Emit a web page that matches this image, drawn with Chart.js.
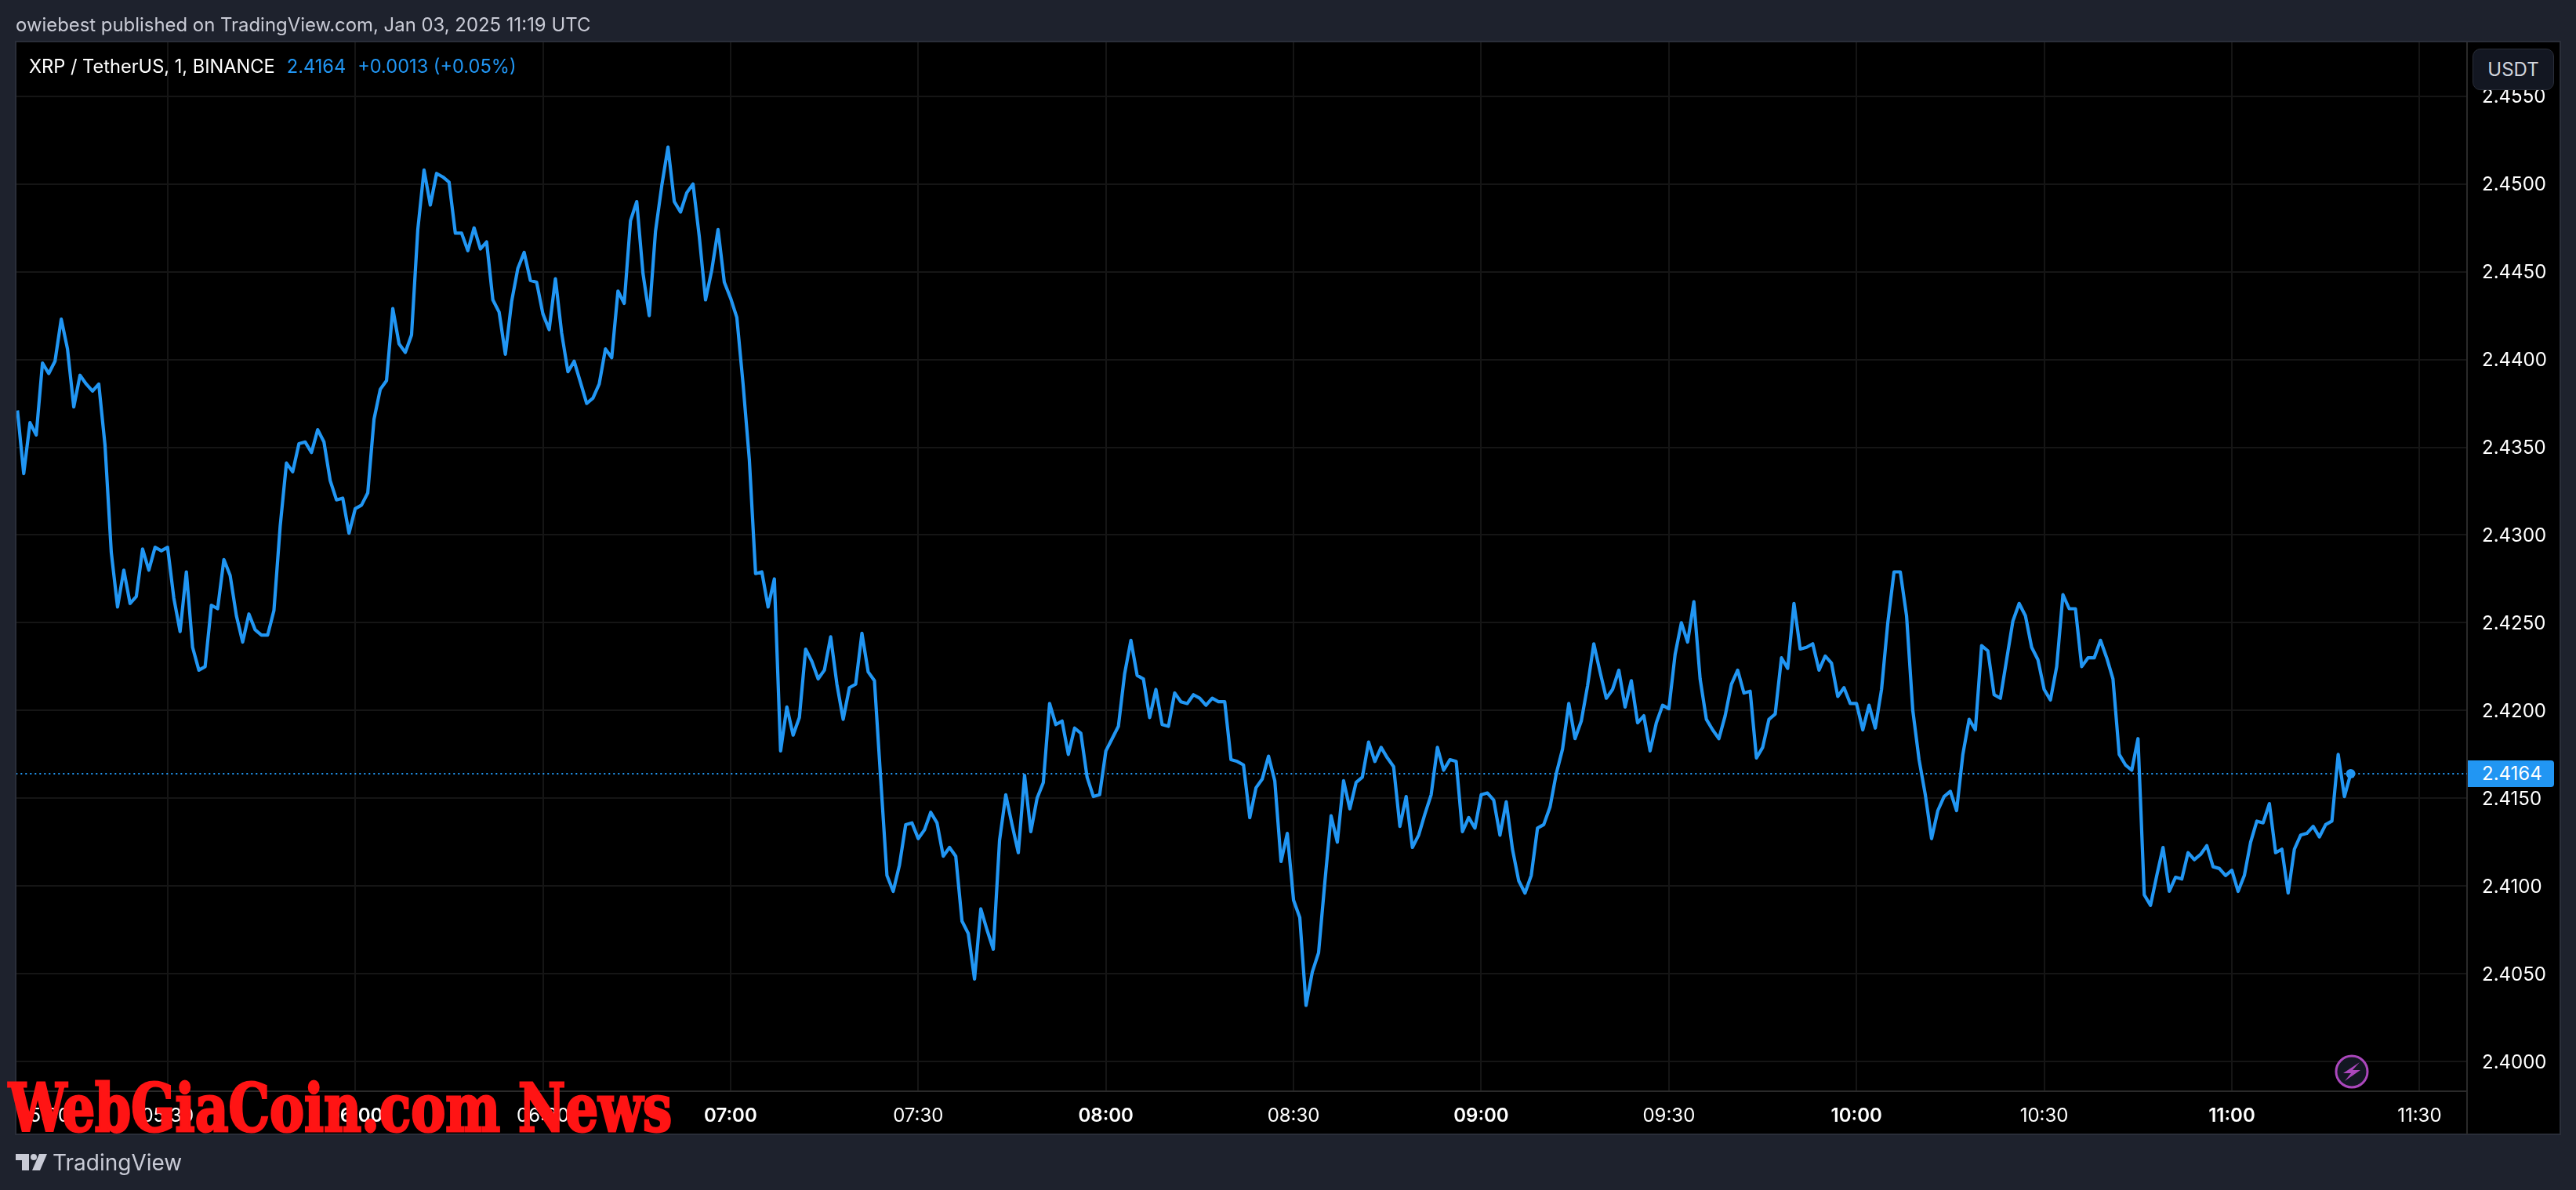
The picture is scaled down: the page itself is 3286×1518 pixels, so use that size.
<!DOCTYPE html>
<html>
<head>
<meta charset="utf-8">
<title>XRP / TetherUS</title>
<script src="https://cdn.jsdelivr.net/npm/chart.js@4"></script>
<style>
  html, body { margin: 0; padding: 0; background: #1E222D; overflow: hidden; }
  body { width: 3286px; height: 1518px; position: relative; font-family: Inter, sans-serif; }
  canvas { position: absolute; left: 0; top: 0; }
  .txt { position: absolute; white-space: nowrap; line-height: 1; font-size: 24px; }
  #published { left: 20px; top: 20px; color: #C9CBD6; font-size: 23.9px; }
  #legend { left: 37px; top: 73px; color: #fff; font-size: 23.6px; }
  #legend span { color: #2196F3; margin-left: 15px; }
  #usdt { position: absolute; left: 3154px; top: 62px; width: 102px; height: 51px; box-sizing: content-box;
          background: #131722; border: 1px solid #2A2E39; border-radius: 10px; color: #D1D4DC;
          font-size: 24px; line-height: 51px; text-align: center; }
  #tag { position: absolute; left: 3148px; top: 970px; width: 110px; height: 34px; background: #2196F3;
         border-radius: 0 4px 4px 0; color: #fff; font-size: 24px; line-height: 34px; padding-left: 18px; box-sizing: border-box; }
  #bolt { position: absolute; left: 2976px; top: 1343px; }
  #wm { position: absolute; left: 11px; top: 1372px; color: #FF1414; font-family: "DejaVu Serif", serif; font-weight: 700;
        font-stretch: condensed; font-size: 84px; line-height: 1; white-space: nowrap; transform-origin: 0 0;
        -webkit-text-stroke: 3px #FF1414; }
  #logo { position: absolute; left: 20px; top: 1472px; }
  #tv { left: 67px; top: 1469px; font-size: 28px; color: #C9CBD6; }
</style>
</head>
<body>
<canvas id="grafico" width="3286" height="1518"></canvas>
<div class="txt" id="published">owiebest published on TradingView.com, Jan 03, 2025 11:19 UTC</div>
<div class="txt" id="legend">XRP / TetherUS, 1, BINANCE<span>2.4164</span><span>+0.0013 (+0.05%)</span></div>
<div id="usdt">USDT</div>
<div id="tag">2.4164</div>
<svg id="bolt" width="48" height="48" viewBox="0 0 48 48">
  <circle cx="24" cy="24" r="20" fill="#131722" stroke="#AB47BC" stroke-width="3"/>
  <path d="M34 12 L13 26 L23 26 L15 36 L35 22 L25 22 Z" fill="#AB47BC"/>
</svg>
<div id="wm">WebGiaCoin.com News</div>
<svg id="logo" width="40" height="21" viewBox="0 0 40 21">
  <path d="M0 0 H17 V21 H8 V8 H0 Z" fill="#C9CBD6"/>
  <circle cx="23" cy="4" r="4" fill="#C9CBD6"/>
  <path d="M30 0 H40 L31 21 H21 Z" fill="#C9CBD6"/>
</svg>
<div class="txt" id="tv">TradingView</div>

<script>
// prezzi di chiusura, una candela al minuto dalle 05:06 alle 11:19
const prezzi = [
  2.4371,2.4335,2.4364,2.4357,2.4398,2.4392,2.4399,2.4423,2.4406,2.4373,
  2.4391,2.4386,2.4382,2.4386,2.4351,2.4290,2.4259,2.4280,2.4261,2.4265,
  2.4292,2.4280,2.4293,2.4291,2.4293,2.4264,2.4245,2.4279,2.4236,2.4223,
  2.4225,2.4260,2.4258,2.4286,2.4277,2.4254,2.4239,2.4255,2.4246,2.4243,
  2.4243,2.4257,2.4305,2.4341,2.4336,2.4352,2.4353,2.4347,2.4360,2.4353,
  2.4331,2.4320,2.4321,2.4301,2.4315,2.4317,2.4324,2.4366,2.4383,2.4388,
  2.4429,2.4409,2.4404,2.4414,2.4474,2.4508,2.4488,2.4506,2.4504,2.4501,
  2.4472,2.4472,2.4462,2.4475,2.4463,2.4467,2.4434,2.4427,2.4403,2.4433,
  2.4452,2.4461,2.4445,2.4444,2.4426,2.4417,2.4446,2.4415,2.4393,2.4399,
  2.4387,2.4375,2.4378,2.4386,2.4406,2.4401,2.4439,2.4432,2.4479,2.4490,
  2.4449,2.4425,2.4473,2.4499,2.4521,2.4490,2.4484,2.4495,2.4500,2.4470,
  2.4434,2.4451,2.4474,2.4444,2.4435,2.4424,2.4386,2.4343,2.4278,2.4279,
  2.4259,2.4275,2.4177,2.4202,2.4186,2.4196,2.4235,2.4228,2.4218,2.4223,
  2.4242,2.4215,2.4195,2.4213,2.4215,2.4244,2.4222,2.4217,2.4161,2.4106,
  2.4097,2.4112,2.4135,2.4136,2.4127,2.4132,2.4142,2.4136,2.4117,2.4122,
  2.4117,2.4080,2.4073,2.4047,2.4087,2.4075,2.4064,2.4126,2.4152,2.4135,
  2.4119,2.4163,2.4131,2.4150,2.4159,2.4204,2.4192,2.4194,2.4175,2.4190,
  2.4187,2.4162,2.4151,2.4152,2.4177,2.4184,2.4191,2.4221,2.4240,2.4220,
  2.4218,2.4196,2.4212,2.4192,2.4191,2.4210,2.4205,2.4204,2.4209,2.4207,
  2.4203,2.4207,2.4205,2.4205,2.4172,2.4171,2.4169,2.4139,2.4156,2.4161,
  2.4174,2.4160,2.4114,2.4130,2.4092,2.4082,2.4032,2.4051,2.4062,2.4102,
  2.4140,2.4125,2.4160,2.4144,2.4159,2.4162,2.4182,2.4171,2.4179,2.4173,
  2.4168,2.4134,2.4151,2.4122,2.4129,2.4141,2.4152,2.4179,2.4166,2.4172,
  2.4171,2.4131,2.4139,2.4133,2.4152,2.4153,2.4149,2.4129,2.4148,2.4121,
  2.4103,2.4096,2.4106,2.4133,2.4135,2.4145,2.4164,2.4178,2.4204,2.4184,
  2.4194,2.4214,2.4238,2.4222,2.4207,2.4212,2.4223,2.4202,2.4217,2.4193,
  2.4197,2.4177,2.4193,2.4203,2.4201,2.4232,2.4250,2.4239,2.4262,2.4218,
  2.4195,2.4189,2.4184,2.4197,2.4215,2.4223,2.4210,2.4211,2.4173,2.4179,
  2.4195,2.4198,2.4230,2.4224,2.4261,2.4235,2.4236,2.4238,2.4223,2.4231,
  2.4227,2.4208,2.4213,2.4204,2.4204,2.4189,2.4203,2.4190,2.4212,2.4250,
  2.4279,2.4279,2.4254,2.4200,2.4172,2.4152,2.4127,2.4143,2.4151,2.4154,
  2.4143,2.4175,2.4195,2.4189,2.4237,2.4234,2.4209,2.4207,2.4229,2.4251,
  2.4261,2.4254,2.4236,2.4229,2.4212,2.4206,2.4225,2.4266,2.4258,2.4258,
  2.4225,2.4230,2.4230,2.4240,2.4230,2.4218,2.4175,2.4169,2.4166,2.4184,
  2.4095,2.4089,2.4106,2.4122,2.4097,2.4105,2.4104,2.4119,2.4115,2.4118,
  2.4123,2.4111,2.4110,2.4106,2.4109,2.4097,2.4106,2.4125,2.4137,2.4136,
  2.4147,2.4119,2.4121,2.4096,2.4121,2.4129,2.4130,2.4134,2.4128,2.4135,
  2.4137,2.4175,2.4151,2.4164
];
const ultimoPrezzo = 2.4164;

// tacche dell'asse dei prezzi
const tacchePrezzo = [2.40, 2.405, 2.41, 2.415, 2.42, 2.425, 2.43, 2.435, 2.44, 2.445, 2.45, 2.455];

// tacche dell'asse del tempo, in minuti dalla prima candela
// (05:00 cade fuori scala: TradingView la tiene contro il bordo, senza griglia)
const taccheTempo = [4.2, 24, 54, 84, 114, 144, 174, 204, 234, 264, 294, 324, 354, 384];
const etichetteTempo = ['05:00', '05:30', '06:00', '06:30', '07:00', '07:30', '08:00', '08:30', '09:00', '09:30', '10:00', '10:30', '11:00', '11:30'];

const colGriglia = '#151515';
const colBordo = '#2a2a2a';
const colLinea = '#2196F3';

const sfondoPannello = {
  id: 'sfondoPannello',
  beforeDraw(chart) {
    const c = chart.ctx;
    c.save();
    c.fillStyle = '#000';
    c.fillRect(21, 54, 3245, 1393);
    c.restore();
  },
  afterDraw(chart) {
    const c = chart.ctx;
    c.save();
    c.strokeStyle = '#2A2E39';
    c.lineWidth = 2;
    c.strokeRect(20, 53, 3246, 1394);
    c.strokeStyle = colBordo;
    c.beginPath();
    c.moveTo(chart.chartArea.right, 1392);
    c.lineTo(chart.chartArea.right, 1447);
    c.stroke();
    c.restore();
  }
};

new Chart(document.getElementById('grafico').getContext('2d'), {
  type: 'line',
  data: {
    datasets: [
      {
        data: prezzi.map((p, i) => ({ x: i, y: p })),
        borderColor: colLinea,
        backgroundColor: colLinea,
        borderWidth: 4.2,
        borderJoinStyle: 'round',
        tension: 0,
        pointRadius: ctx => ctx.dataIndex === prezzi.length - 1 ? 6 : 0,
        pointBorderWidth: 0,
        order: 1
      },
      {
        // linea tratteggiata dell'ultimo prezzo
        data: [{ x: -1, y: ultimoPrezzo }, { x: 392, y: ultimoPrezzo }],
        borderColor: colLinea,
        borderWidth: 2,
        borderDash: [2, 4],
        pointRadius: 0,
        order: 2
      }
    ]
  },
  options: {
    responsive: false,
    animation: false,
    devicePixelRatio: 1,
    layout: { padding: { left: 21, top: 54, right: 20, bottom: 71 } },
    plugins: { legend: { display: false }, tooltip: { enabled: false } },
    scales: {
      x: {
        type: 'linear',
        min: -0.16,
        max: 391.6,
        afterBuildTicks: s => { s.ticks = taccheTempo.map(v => ({ value: v })); },
        afterFit: s => { s.height = 55; },
        grid: {
          color: ctx => ctx.index === 0 ? 'transparent' : colGriglia,
          lineWidth: 2,
          drawTicks: false
        },
        border: { color: colBordo, width: 2 },
        ticks: {
          autoSkip: false,
          maxRotation: 0,
          padding: 17,
          color: '#fff',
          font: ctx => {
            const e = etichetteTempo[ctx.index];
            return { family: 'Inter', size: 24, weight: e && e.endsWith(':00') && ctx.index > 0 ? '600' : '400' };
          },
          callback: (v, i) => etichetteTempo[i]
        }
      },
      y: {
        position: 'right',
        min: 2.39831,
        max: 2.45807,
        afterBuildTicks: s => { s.ticks = tacchePrezzo.map(v => ({ value: v })); },
        afterFit: s => { s.width = 119; },
        grid: { color: colGriglia, lineWidth: 2, drawTicks: false },
        border: { color: colBordo, width: 2 },
        ticks: {
          padding: 19,
          labelOffset: 1.5,
          color: '#fff',
          font: { family: 'Inter', size: 24 },
          callback: v => v.toFixed(4)
        }
      }
    }
  },
  plugins: [sfondoPannello]
});

// la filigrana va stretta sulla larghezza della foto
const wm = document.getElementById('wm');
wm.style.transform = 'scaleX(' + (846 / wm.offsetWidth) + ')';
</script>
</body>
</html>
